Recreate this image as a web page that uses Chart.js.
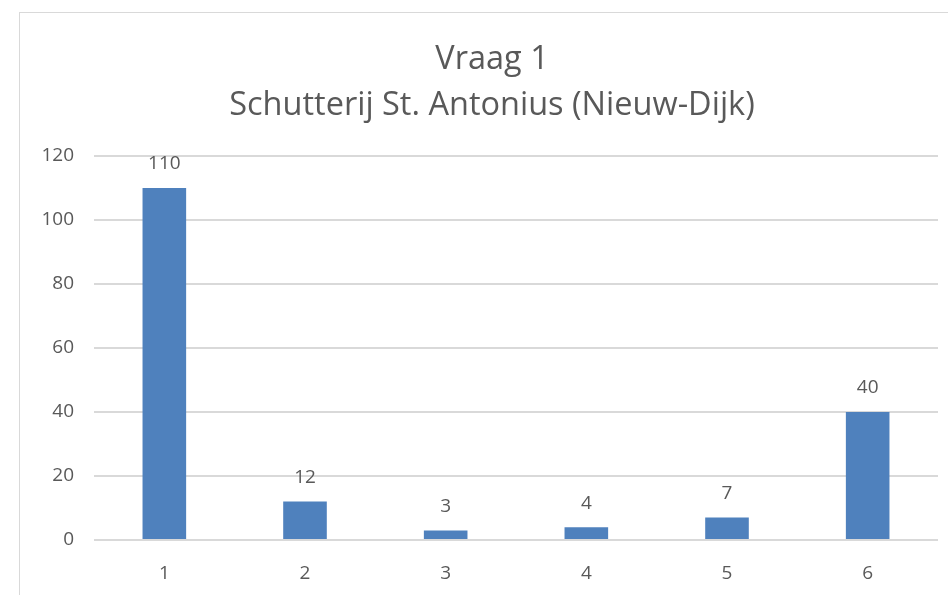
<!DOCTYPE html>
<html>
<head>
<meta charset="utf-8">
<script src="https://cdn.jsdelivr.net/npm/chart.js@4"></script>
<style>
  html, body { margin: 0; padding: 0; background: #fff; }
  #wrap { position: relative; width: 948px; height: 595px; overflow: hidden; }
  #frame { position: absolute; left: 19px; top: 12px; width: 1000px; height: 700px; border: 1px solid #d9d9d9; box-sizing: border-box; }
  canvas { position: absolute; left: 0; top: 0; }
</style>
</head>
<body>
<div id="wrap">
  <div id="frame"></div>
  <canvas id="c" width="948" height="595"></canvas>
</div>
<script>
const titleLines = ['Vraag 1', 'Schutterij St. Antonius (Nieuw-Dijk)'];
const categories = ['1', '2', '3', '4', '5', '6'];
const values = [110, 12, 3, 4, 7, 40];
const yTicks = [0, 20, 40, 60, 80, 100, 120];

const FONT = "'Open Sans', 'Liberation Sans', Arial, sans-serif";
const TEXT = '#595959';

const valueLabels = {
  id: 'valueLabels',
  afterDatasetsDraw(chart) {
    const ctx = chart.ctx;
    const meta = chart.getDatasetMeta(0);
    ctx.save();
    ctx.font = '19px ' + FONT;
    ctx.fillStyle = TEXT;
    ctx.textAlign = 'center';
    ctx.textBaseline = 'middle';
    meta.data.forEach((bar, i) => {
      ctx.fillText(String(values[i]), bar.x, bar.y - 24);
    });
    ctx.restore();
  }
};

// The original chart frame extends past the right edge of the picture,
// so its title is centred on the wider frame rather than on the canvas.
const titleShift = {
  id: 'titleShift',
  afterLayout(chart) {
    const t = chart.titleBlock;
    if (t) { t.left += 46; t.width = t.right - t.left; }
  }
};

new Chart(document.getElementById('c'), {
  type: 'bar',
  data: {
    labels: categories,
    datasets: [{
      data: values,
      backgroundColor: '#4f81bd',
      borderWidth: 0,
      barPercentage: 0.62,
      categoryPercentage: 0.5
    }]
  },
  options: {
    responsive: false,
    animation: false,
    layout: { padding: { left: 0, right: 10, top: 0, bottom: 0 } },
    plugins: {
      legend: { display: false },
      tooltip: { enabled: false },
      title: {
        display: true,
        text: titleLines,
        color: TEXT,
        font: { family: FONT, size: 32.5, weight: 'normal', lineHeight: 1.43 },
        padding: { top: 36, bottom: 27 }
      }
    },
    scales: {
      x: {
        grid: { display: false },
        border: { display: false },
        ticks: { color: TEXT, font: { family: FONT, size: 19 }, padding: 14 },
        afterFit(s) { s.height = 55; }
      },
      y: {
        min: 0, max: 120,
        afterBuildTicks(s) { s.ticks = yTicks.map(v => ({ value: v })); },
        grid: { color: '#d9d9d9', lineWidth: 2, drawTicks: false },
        border: { display: false },
        ticks: { color: TEXT, font: { family: FONT, size: 19 }, padding: 20 },
        afterFit(s) { s.width = 94; }
      }
    }
  },
  plugins: [valueLabels, titleShift]
});
</script>
</body>
</html>
